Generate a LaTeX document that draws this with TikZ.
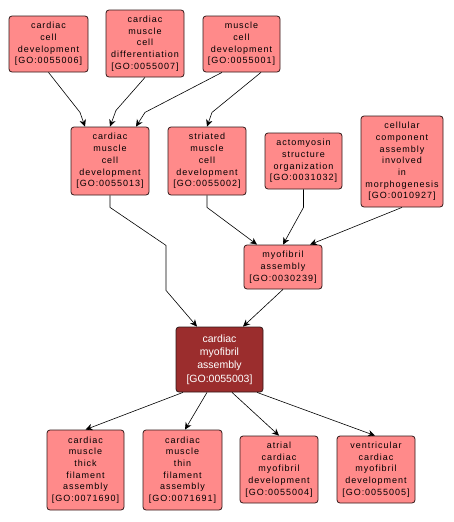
\documentclass[tikz,border=0pt]{standalone}
\usepackage{fontspec}
\setmainfont{Liberation Sans}
\newfontfamily\gotrack[LetterSpace=11]{Liberation Sans}
\usetikzlibrary{arrows.meta,calc}
\definecolor{gopink}{RGB}{255,138,138}
\definecolor{gofocuscol}{RGB}{155,45,45}
\definecolor{goline}{RGB}{50,25,25}
\tikzset{
  gobox/.style={draw=goline,fill=gopink,rounded corners=3pt,line width=0.8pt,
    align=center,inner sep=0pt,text=black,
    font=\fontsize{9}{11.7}\selectfont\gotrack},
  gofocus/.style={gobox,fill=gofocuscol,text=white,
    font=\fontsize{10.5}{13.3}\selectfont},
  isa/.style={-{Stealth[length=7pt,width=6.5pt]},line width=0.6pt,black}
}

\begin{document}
\begin{tikzpicture}[x=1pt,y=-1pt,line join=round]
\useasboundingbox[fill=white] (0,0) rectangle (453,522);
% --- top row
\node[gobox,minimum width=79pt,minimum height=56pt] (ccd) at (48.5,44) {cardiac\\cell\\development\\{[GO:0055006]}};
\node[gobox,minimum width=78pt,minimum height=67pt] (cmcdiff) at (145,43.5) {cardiac\\muscle\\cell\\differentiation\\{[GO:0055007]}};
\node[gobox,minimum width=77pt,minimum height=56pt] (mcd) at (241.5,44) {muscle\\cell\\development\\{[GO:0055001]}};
% --- second row
\node[gobox,minimum width=78pt,minimum height=68pt] (cmcd) at (110,161) {cardiac\\muscle\\cell\\development\\{[GO:0055013]}};
\node[gobox,minimum width=78pt,minimum height=68pt] (smcd) at (207,161) {striated\\muscle\\cell\\development\\{[GO:0055002]}};
\node[gobox,minimum width=77pt,minimum height=56pt] (aso) at (303.5,161) {actomyosin\\structure\\organization\\{[GO:0031032]}};
\node[gobox,minimum width=82pt,minimum height=91pt] (ccaim) at (402,161.5) {cellular\\component\\assembly\\involved\\in\\morphogenesis\\{[GO:0010927]}};
\node[gobox,minimum width=78pt,minimum height=44pt] (ma) at (283,267) {myofibril\\assembly\\{[GO:0030239]}};
% --- focus term
\node[gofocus,minimum width=87pt,minimum height=65pt] (cma) at (219.5,359.5) {cardiac\\myofibril\\assembly\\{[GO:0055003]}};
% --- bottom row
\node[gobox,minimum width=77pt,minimum height=80pt] (thick) at (85.5,470) {cardiac\\muscle\\thick\\filament\\assembly\\{[GO:0071690]}};
\node[gobox,minimum width=79pt,minimum height=80pt] (thin) at (182.5,470) {cardiac\\muscle\\thin\\filament\\assembly\\{[GO:0071691]}};
\node[gobox,minimum width=78pt,minimum height=67pt] (acmd) at (279,469.5) {atrial\\cardiac\\myofibril\\development\\{[GO:0055004]}};
\node[gobox,minimum width=78pt,minimum height=67pt] (vcmd) at (376,469.5) {ventricular\\cardiac\\myofibril\\development\\{[GO:0055005]}};
% --- edges
\draw[isa] (ccd.south) -- ++(31.5,40) -- ([xshift=-25pt]cmcd.north);
\draw[isa] (cmcdiff.south) -- ++(-29,33) -- (cmcd.north);
\draw[isa] ([xshift=-19.5pt]mcd.south) -- ++(-77,40) -- ([xshift=26pt]cmcd.north);
\draw[isa] ([xshift=19.5pt]mcd.south) -- ++(-49,40) -- (smcd.north);
\draw[isa] (cmcd.south) -- ++(0,12) -- ++(56,38) -- ++(0,45) -- ([xshift=-22.5pt]cma.north);
\draw[isa] (smcd.south) -- ++(0,12) -- ([xshift=-26pt]ma.north);
\draw[isa] (aso.south) -- ++(0,18) -- (ma.north);
\draw[isa] (ccaim.south) -- ([xshift=27pt]ma.north);
\draw[isa] (ma.south) -- ([xshift=23.5pt]cma.north);
\draw[isa] ([xshift=-36.5pt]cma.south) -- (thick.north);
\draw[isa] ([xshift=-12.5pt]cma.south) -- ([xshift=2.5pt]thin.north);
\draw[isa] ([xshift=12.5pt]cma.south) -- (acmd.north);
\draw[isa] ([xshift=37.5pt]cma.south) -- ([xshift=-1pt]vcmd.north);
\end{tikzpicture}
\end{document}
